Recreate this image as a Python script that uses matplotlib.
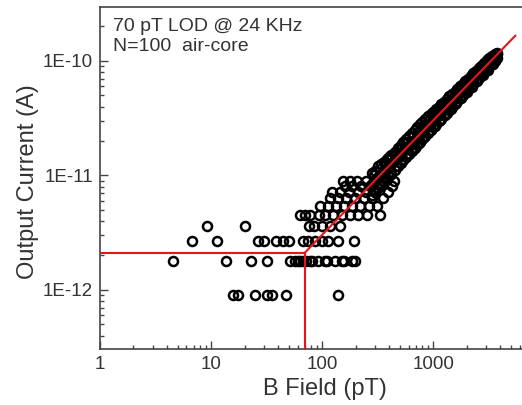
import matplotlib
matplotlib.use("Agg")
import matplotlib.pyplot as plt
from matplotlib.ticker import FixedLocator, LogLocator, NullFormatter

plt.rcParams["font.family"] = ["Liberation Sans", "DejaVu Sans"]

# low-field points sit on quantized current levels (A)
row_09_B = [15.8, 17.3, 25, 32, 35, 47, 139]
row_18_B = [4.5, 13.6, 22.9, 31.7, 51, 57, 60, 63, 67, 72, 78, 81, 92, 106, 110, 130, 150, 157, 186, 198]
row_27_B = [6.8, 11.3, 26.5, 30, 38.5, 44.5, 50.5, 67, 75, 86, 100, 113, 139, 195]
row_36_B = [9.2, 20.2, 76, 85, 100, 118, 146]
row_45_B = [63, 70, 78, 94, 106, 125, 150, 178, 211, 254, 334]
row_54_B = [96, 113, 134, 158, 186, 219, 265, 313]
row_63_B = [118, 139, 164, 198, 239, 282, 356]
row_72_B = [123, 146, 175, 211, 250, 300, 393]
row_81_B = [161, 186, 224, 270, 334, 427]
row_90_B = [155, 178, 207, 250, 290, 356, 444]
levels = [0.9e-12, 1.8e-12, 2.7e-12, 3.6e-12, 4.5e-12, 5.4e-12, 6.3e-12, 7.2e-12, 8.1e-12, 9.0e-12]

# dense band at higher field
band_B = [280, 300, 320, 340, 360, 380, 400, 420, 450, 480, 510, 540, 570, 600,
          640, 680, 720, 760, 800, 850, 900, 950, 1000, 1060, 1120, 1180, 1250,
          1320, 1400, 1480, 1560, 1650, 1740, 1840, 1950, 2060, 2180, 2300, 2430,
          2570, 2720, 2870, 3030, 3200, 3380, 3570, 3780]
band_mid = [8.5e-12, 9.1e-12, 9.7e-12, 1.03e-11, 1.09e-11, 1.15e-11, 1.21e-11, 1.27e-11,
            1.36e-11, 1.45e-11, 1.55e-11, 1.64e-11, 1.73e-11, 1.82e-11, 1.94e-11,
            2.06e-11, 2.18e-11, 2.30e-11, 2.42e-11, 2.58e-11, 2.73e-11, 2.88e-11,
            3.03e-11, 3.21e-11, 3.39e-11, 3.58e-11, 3.79e-11, 4.0e-11, 4.24e-11,
            4.48e-11, 4.73e-11, 5.0e-11, 5.27e-11, 5.58e-11, 5.91e-11, 6.24e-11,
            6.61e-11, 6.97e-11, 7.36e-11, 7.79e-11, 8.24e-11, 8.70e-11, 9.18e-11,
            9.70e-11, 1.02e-10, 1.08e-10, 1.15e-10]
band_hi = [1.05e-11, 1.1e-11, 1.2e-11, 1.25e-11, 1.3e-11, 1.4e-11, 1.45e-11, 1.5e-11,
           1.6e-11, 1.72e-11, 1.85e-11, 1.95e-11, 2.08e-11, 2.2e-11, 2.35e-11, 2.5e-11,
           2.65e-11, 2.8e-11, 2.95e-11, 3.1e-11, 3.3e-11, 3.45e-11, 3.6e-11, 3.8e-11,
           4.0e-11, 4.2e-11, 4.4e-11, 4.65e-11, 4.9e-11, 5.15e-11, 5.4e-11, 5.7e-11,
           6.0e-11, 6.3e-11, 6.65e-11, 7.0e-11, 7.4e-11, 7.8e-11, 8.2e-11, 8.65e-11,
           9.1e-11, 9.6e-11, 1.01e-10, 1.06e-10, 1.11e-10, 1.16e-10, 1.18e-10]
band_lo = [6.8e-12, 7.2e-12, 7.7e-12, 8.2e-12, 8.8e-12, 9.3e-12, 9.9e-12, 1.04e-11,
           1.12e-11, 1.2e-11, 1.29e-11, 1.37e-11, 1.45e-11, 1.53e-11, 1.64e-11,
           1.75e-11, 1.86e-11, 1.97e-11, 2.08e-11, 2.22e-11, 2.36e-11, 2.5e-11,
           2.64e-11, 2.8e-11, 2.97e-11, 3.14e-11, 3.34e-11, 3.54e-11, 3.76e-11,
           3.99e-11, 4.22e-11, 4.48e-11, 4.74e-11, 5.03e-11, 5.34e-11, 5.66e-11,
           6.0e-11, 6.35e-11, 6.73e-11, 7.14e-11, 7.57e-11, 8.0e-11, 8.47e-11,
           8.97e-11, 9.5e-11, 1.0e-10, 1.06e-10]
# extra fill points inside the band
fill_B = [290, 330, 370, 410, 465, 525, 585, 660, 740, 825, 925, 1030, 1150, 1285,
          1440, 1605, 1790, 2005, 2240, 2500, 2795, 3115, 3475]
fill_hi = [1.0e-11, 1.13e-11, 1.26e-11, 1.38e-11, 1.55e-11, 1.76e-11, 1.95e-11,
           2.2e-11, 2.45e-11, 2.75e-11, 3.05e-11, 3.4e-11, 3.8e-11, 4.2e-11,
           4.7e-11, 5.2e-11, 5.8e-11, 6.45e-11, 7.2e-11, 8.0e-11, 8.9e-11,
           9.9e-11, 1.1e-10]
fill_lo = [7.6e-12, 8.6e-12, 9.6e-12, 1.07e-11, 1.21e-11, 1.37e-11, 1.53e-11,
           1.73e-11, 1.94e-11, 2.17e-11, 2.44e-11, 2.72e-11, 3.04e-11, 3.4e-11,
           3.82e-11, 4.27e-11, 4.76e-11, 5.34e-11, 5.97e-11, 6.68e-11, 7.48e-11,
           8.35e-11, 9.35e-11]

# red guide lines
lod_B = 70
floor_I = 2.12e-12
fit_end_B = 5480
fit_end_I = 1.66e-10

rows = [row_09_B, row_18_B, row_27_B, row_36_B, row_45_B,
        row_54_B, row_63_B, row_72_B, row_81_B, row_90_B]

fig = plt.figure(figsize=(5.22, 4.05), dpi=100)
ax = fig.add_axes([100 / 522, 1 - 349 / 405, 422 / 522, 342 / 405])

mk = dict(linestyle="none", marker="o", markersize=6.5, markerfacecolor="none",
          markeredgecolor="black", markeredgewidth=1.8)
for xs, lvl in zip(rows, levels):
    ax.plot(xs, [lvl] * len(xs), **mk)
ax.plot(band_B, band_mid, **mk)
ax.plot(band_B, band_hi, **mk)
ax.plot(band_B, band_lo, **mk)
ax.plot(fill_B, fill_hi, **mk)
ax.plot(fill_B, fill_lo, **mk)

red = "#e8151b"
ax.set_xscale("log")
ax.set_yscale("log")
ax.set_xlim(1, 6300)
ax.set_ylim(3.05e-13, 2.96e-10)
ax.plot([1, lod_B], [floor_I, floor_I], color=red, lw=1.5, zorder=5)
ax.plot([lod_B, lod_B], [3.05e-13, floor_I], color=red, lw=1.5, zorder=5)
ax.plot([lod_B, fit_end_B], [floor_I, fit_end_I], color=red, lw=1.5, zorder=5)

ax.xaxis.set_major_locator(FixedLocator([1, 10, 100, 1000]))
ax.set_xticklabels(["1", "10", "100", "1000"])
ax.xaxis.set_minor_locator(LogLocator(base=10, subs=range(2, 10)))
ax.xaxis.set_minor_formatter(NullFormatter())
ax.yaxis.set_major_locator(FixedLocator([1e-12, 1e-11, 1e-10]))
ax.set_yticklabels(["1E-12", "1E-11", "1E-10"])
ax.yaxis.set_minor_locator(LogLocator(base=10, subs=range(2, 10)))
ax.yaxis.set_minor_formatter(NullFormatter())

tc = "#333333"
ax.tick_params(which="both", direction="in", colors="#444444", labelcolor=tc,
               labelsize=13.5, width=1.0)
ax.tick_params(which="major", length=6, pad=5)
ax.tick_params(which="minor", length=3)
for s in ["left", "bottom", "top"]:
    ax.spines[s].set_color("#444444")
    ax.spines[s].set_linewidth(1.2)
ax.spines["right"].set_visible(False)

ax.set_xlabel("B Field (pT)", fontsize=17, color=tc)
ax.set_ylabel("Output Current (A)", fontsize=17, color=tc)
ax.xaxis.set_label_coords(0.533, -0.085)
ax.yaxis.set_label_coords(-0.145, 0.49)

ax.text(0.031, 0.968, "70 pT LOD @ 24 KHz", transform=ax.transAxes,
        fontsize=14, color=tc, va="top", ha="left")
ax.text(0.031, 0.909, "N=100  air-core", transform=ax.transAxes,
        fontsize=14, color=tc, va="top", ha="left")

fig.savefig("out.png", dpi=100)
